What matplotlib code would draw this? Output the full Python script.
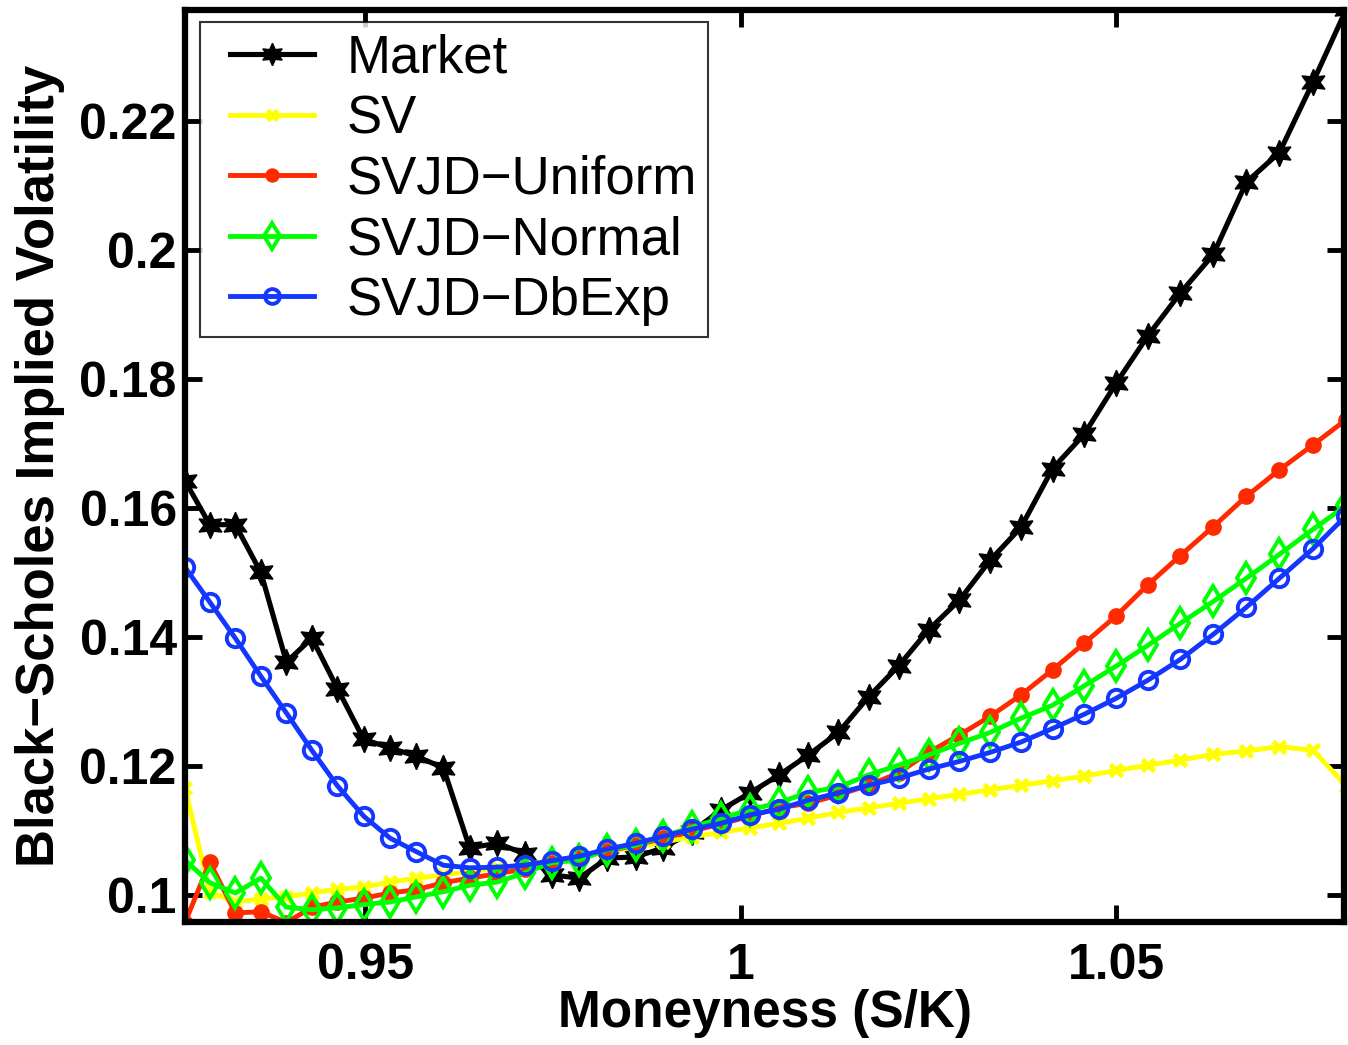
import matplotlib
matplotlib.use("Agg")
import matplotlib.pyplot as plt
from matplotlib.lines import Line2D
from matplotlib.legend_handler import HandlerLine2D

# Moneyness grid (S/K)
moneyness = [0.9260, 0.9293, 0.9327, 0.9361, 0.9395, 0.9429, 0.9463, 0.9498,
             0.9533, 0.9568, 0.9604, 0.9639, 0.9676, 0.9712, 0.9748, 0.9785,
             0.9822, 0.9860, 0.9897, 0.9935, 0.9974, 1.0012, 1.0051, 1.0090,
             1.0130, 1.0170, 1.0210, 1.0250, 1.0291, 1.0332, 1.0373, 1.0415,
             1.0457, 1.0500, 1.0542, 1.0585, 1.0629, 1.0673, 1.0717, 1.0762,
             1.0806]

market = [0.1642, 0.1574, 0.1574, 0.1500, 0.1361, 0.1398, 0.1320, 0.1241,
          0.1228, 0.1215, 0.1197, 0.1073, 0.1080, 0.1064, 0.1031, 0.1026,
          0.1057, 0.1059, 0.1073, 0.1098, 0.1132, 0.1158, 0.1186, 0.1217,
          0.1252, 0.1307, 0.1355, 0.1411, 0.1457, 0.1519, 0.1570, 0.1661,
          0.1714, 0.1794, 0.1867, 0.1933, 0.1993, 0.2105, 0.2151, 0.2261,
          0.2373]

sv = [0.1166, 0.1005, 0.0989, 0.0994, 0.0997, 0.1003, 0.1009, 0.1012,
      0.1020, 0.1026, 0.1031, 0.1036, 0.1041, 0.1047, 0.1053, 0.1060,
      0.1067, 0.1074, 0.1082, 0.1090, 0.1097, 0.1104, 0.1111, 0.1119,
      0.1128, 0.1135, 0.1142, 0.1149, 0.1156, 0.1163, 0.1170, 0.1177,
      0.1184, 0.1193, 0.1201, 0.1209, 0.1218, 0.1223, 0.1230, 0.1224,
      0.1169]

svjd_uniform = [0.0957, 0.1051, 0.0972, 0.0974, 0.0957, 0.0981, 0.0989, 0.0995,
                0.1003, 0.1008, 0.1019, 0.1026, 0.1033, 0.1040, 0.1049, 0.1058,
                0.1068, 0.1077, 0.1088, 0.1099, 0.1110, 0.1122, 0.1135, 0.1142,
                0.1155, 0.1170, 0.1189, 0.1221, 0.1248, 0.1277, 0.1310, 0.1349,
                0.1390, 0.1433, 0.1481, 0.1526, 0.1571, 0.1618, 0.1659, 0.1698,
                0.1737]

svjd_normal = [0.1054, 0.1019, 0.1003, 0.1026, 0.0981, 0.0977, 0.0980, 0.0985,
               0.0989, 0.0997, 0.1005, 0.1015, 0.1020, 0.1034, 0.1050, 0.1054,
               0.1070, 0.1077, 0.1091, 0.1105, 0.1119, 0.1132, 0.1143, 0.1159,
               0.1167, 0.1186, 0.1201, 0.1217, 0.1235, 0.1252, 0.1274, 0.1294,
               0.1324, 0.1355, 0.1387, 0.1421, 0.1455, 0.1491, 0.1528, 0.1567,
               0.1604]

svjd_dbexp = [0.1508, 0.1454, 0.1398, 0.1339, 0.1282, 0.1224, 0.1169, 0.1122,
              0.1088, 0.1067, 0.1046, 0.1042, 0.1043, 0.1046, 0.1053, 0.1060,
              0.1071, 0.1080, 0.1091, 0.1102, 0.1111, 0.1124, 0.1133, 0.1147,
              0.1158, 0.1170, 0.1181, 0.1195, 0.1207, 0.1221, 0.1237, 0.1258,
              0.1280, 0.1305, 0.1333, 0.1365, 0.1404, 0.1446, 0.1491, 0.1537,
              0.1588]

x_ticks = [0.95, 1.0, 1.05]
x_tick_labels = ["0.95", "1", "1.05"]
y_ticks = [0.10, 0.12, 0.14, 0.16, 0.18, 0.20, 0.22]
y_tick_labels = ["0.1", "0.12", "0.14", "0.16", "0.18", "0.2", "0.22"]

plt.rcParams['font.family'] = ['Liberation Sans', 'DejaVu Sans']

fig = plt.figure(figsize=(13.48, 10.45), dpi=100)
ax = fig.add_axes([185 / 1348, 1 - 922 / 1045, (1344 - 185) / 1348, (922 - 10) / 1045])

lw = 3.5
ax.plot(moneyness, market, color='black', lw=3.7, marker=(6, 1, 0), ms=19,
        mfc='black', mec='black', label='Market')
ax.plot(moneyness, sv, color='#ffff00', lw=lw, marker='x', ms=8, mew=3.5,
        mec='#ffff00', label='SV')
ax.plot(moneyness, svjd_uniform, color='#ff2a00', lw=lw, marker='o', ms=11,
        mfc='#ff2a00', mec='#ff2a00', label='SVJD\u2212Uniform')
ax.plot(moneyness, svjd_normal, color='#00ff00', lw=lw, marker='d', ms=15, mew=2.8,
        mfc='none', mec='#00ff00', label='SVJD\u2212Normal')
ax.plot(moneyness, svjd_dbexp, color='#1437ff', lw=lw, marker='o', ms=12.5, mew=2.8,
        mfc='none', mec='#1437ff', label='SVJD\u2212DbExp')

ax.set_xlim(0.926, 1.0803)
ax.set_ylim(0.0958, 0.2372)

ax.set_xticks(x_ticks)
ax.set_xticklabels(x_tick_labels)
ax.set_yticks(y_ticks)
ax.set_yticklabels(y_tick_labels)
ax.minorticks_off()

for lab in ax.get_xticklabels() + ax.get_yticklabels():
    lab.set_fontweight('bold')
    lab.set_fontsize(36)

ax.tick_params(axis='both', direction='in', length=12, width=3.5,
               top=True, right=True, color='black')
ax.tick_params(axis='x', pad=15)
ax.tick_params(axis='y', pad=6)

for sp in ax.spines.values():
    sp.set_linewidth(4.5)
    sp.set_color('black')

ax.set_xlabel('Moneyness (S/K)', fontsize=37, fontweight='bold', labelpad=0)
ax.set_ylabel('Black\u2212Scholes Implied Volatility', fontsize=38,
              fontweight='bold', labelpad=10)

leg = ax.legend(loc='upper left', bbox_to_anchor=(0.0129, 0.9868),
                borderaxespad=0, fontsize=38, frameon=True, fancybox=False,
                edgecolor='black', handlelength=1.95, handletextpad=0.6,
                labelspacing=0.2, borderpad=0.22, numpoints=1, markerscale=0.85,
                handler_map={Line2D: HandlerLine2D(numpoints=1, xpad=0.34)})
leg.get_frame().set_linewidth(1.5)

fig.savefig('out.png', dpi=100, facecolor='white')
